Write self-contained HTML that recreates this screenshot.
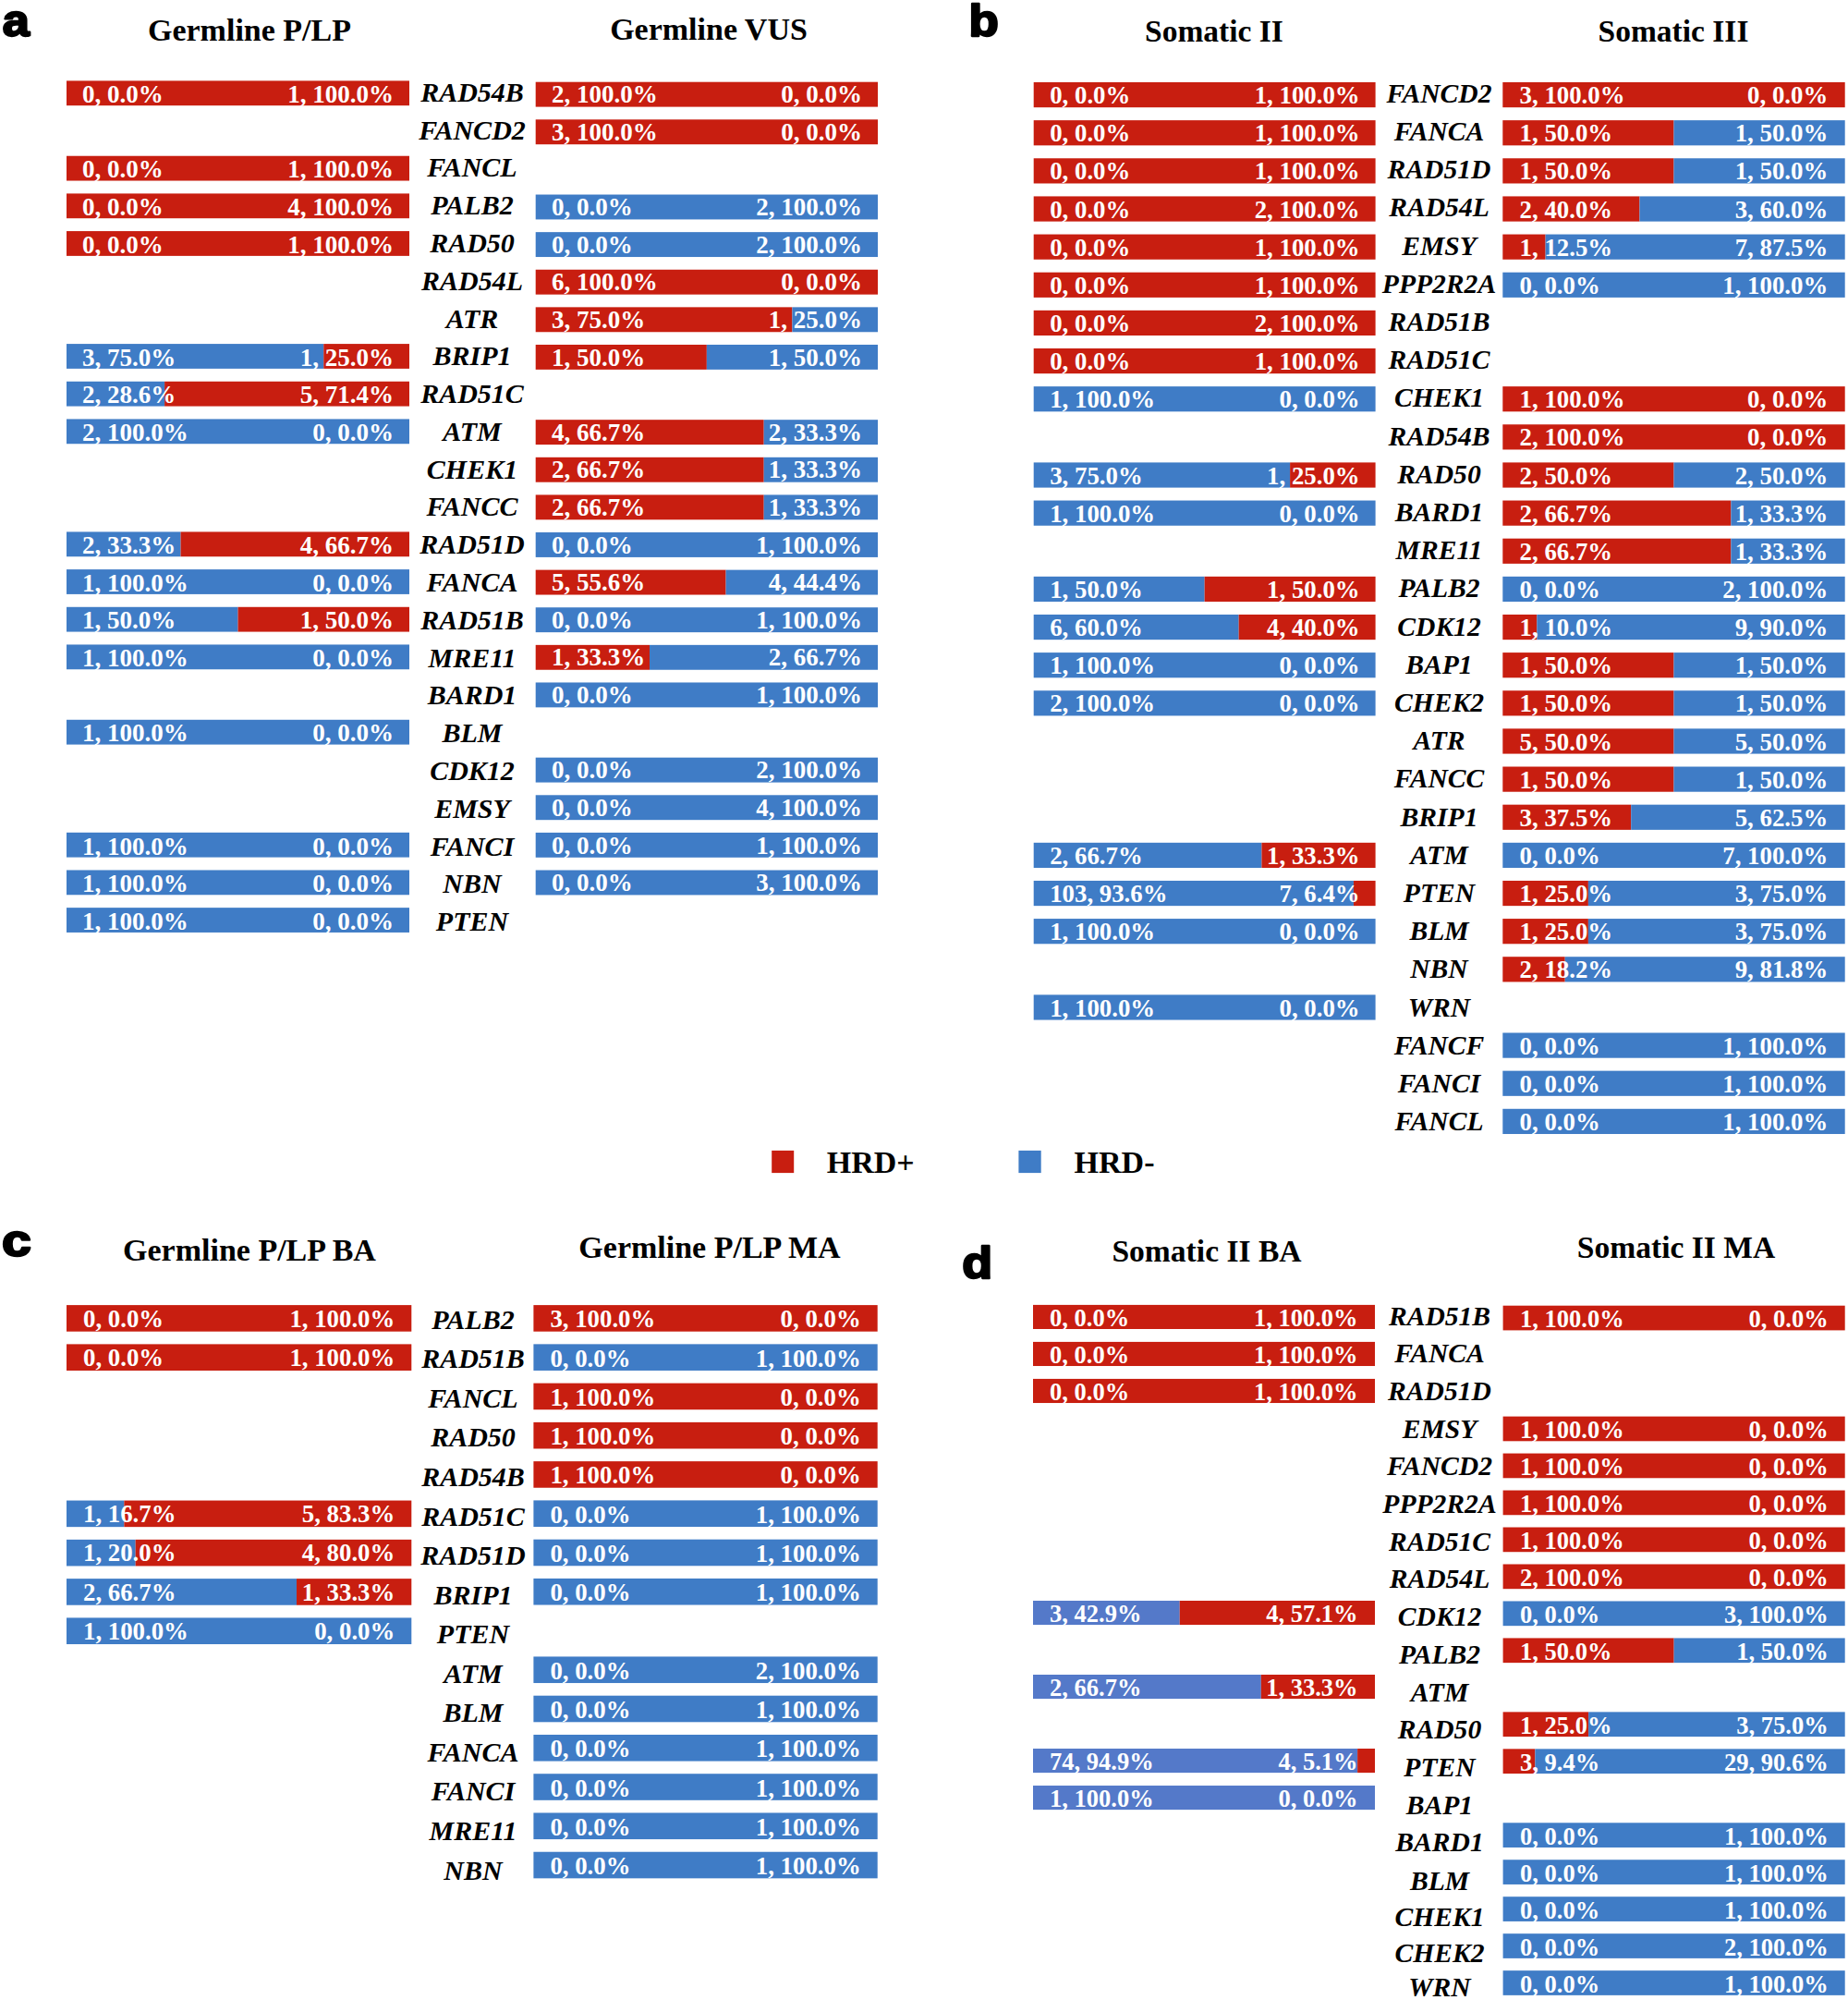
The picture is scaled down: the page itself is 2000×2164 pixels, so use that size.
<!DOCTYPE html>
<html lang="en"><head><meta charset="utf-8"><title>HRD gene alterations</title>
<style>
html,body{margin:0;padding:0;background:#fff;}
svg{display:block;}
.t{font-family:"Liberation Serif","Times New Roman",serif;font-weight:bold;fill:#fff;}
.g{font-family:"Liberation Serif","Times New Roman",serif;font-weight:bold;font-style:italic;fill:#000;text-anchor:middle;}
.h{font-family:"Liberation Serif","Times New Roman",serif;font-weight:bold;fill:#000;text-anchor:middle;}
.k{font-family:"Liberation Serif","Times New Roman",serif;font-weight:bold;fill:#000;}
.p{font-family:"Liberation Sans","Arial",sans-serif;font-weight:bold;fill:#000;stroke:#000;stroke-linejoin:round;}
.e{text-anchor:end;}
</style></head><body>
<svg width="2000" height="2164" viewBox="0 0 2000 2164">
<rect x="0" y="0" width="2000" height="2164" fill="#fff"/>
<g id="panel-a">
<rect x="72" y="87.4" width="371" height="26.8" fill="#C81E10"/>
<text class="t" x="89" y="111.1" font-size="27">0, 0.0%</text>
<text class="t e" x="426" y="111.1" font-size="27">1, 100.0%</text>
<rect x="579.7" y="88.7" width="370.3" height="26.9" fill="#C81E10"/>
<text class="t" x="597" y="111.3" font-size="27">2, 100.0%</text>
<text class="t e" x="933" y="111.3" font-size="27">0, 0.0%</text>
<text class="g" x="511" y="109.8" font-size="30">RAD54B</text>
<rect x="579.7" y="129.31" width="370.3" height="26.9" fill="#C81E10"/>
<text class="t" x="597" y="151.91" font-size="27">3, 100.0%</text>
<text class="t e" x="933" y="151.91" font-size="27">0, 0.0%</text>
<text class="g" x="511" y="150.59" font-size="30">FANCD2</text>
<rect x="72" y="168.74" width="371" height="26.8" fill="#C81E10"/>
<text class="t" x="89" y="192.44" font-size="27">0, 0.0%</text>
<text class="t e" x="426" y="192.44" font-size="27">1, 100.0%</text>
<text class="g" x="511" y="191.38" font-size="30">FANCL</text>
<rect x="72" y="209.41" width="371" height="26.8" fill="#C81E10"/>
<text class="t" x="89" y="233.11" font-size="27">0, 0.0%</text>
<text class="t e" x="426" y="233.11" font-size="27">4, 100.0%</text>
<rect x="579.7" y="210.53" width="370.3" height="26.9" fill="#3F7CC6"/>
<text class="t" x="597" y="233.13" font-size="27">0, 0.0%</text>
<text class="t e" x="933" y="233.13" font-size="27">2, 100.0%</text>
<text class="g" x="511" y="232.17" font-size="30">PALB2</text>
<rect x="72" y="250.08" width="371" height="26.8" fill="#C81E10"/>
<text class="t" x="89" y="273.78" font-size="27">0, 0.0%</text>
<text class="t e" x="426" y="273.78" font-size="27">1, 100.0%</text>
<rect x="579.7" y="251.14" width="370.3" height="26.9" fill="#3F7CC6"/>
<text class="t" x="597" y="273.74" font-size="27">0, 0.0%</text>
<text class="t e" x="933" y="273.74" font-size="27">2, 100.0%</text>
<text class="g" x="511" y="272.96" font-size="30">RAD50</text>
<rect x="579.7" y="291.75" width="370.3" height="26.9" fill="#C81E10"/>
<text class="t" x="597" y="314.35" font-size="27">6, 100.0%</text>
<text class="t e" x="933" y="314.35" font-size="27">0, 0.0%</text>
<text class="g" x="511" y="313.75" font-size="30">RAD54L</text>
<rect x="579.7" y="332.36" width="277.72" height="26.9" fill="#C81E10"/>
<rect x="857.42" y="332.36" width="92.58" height="26.9" fill="#3F7CC6"/>
<text class="t" x="597" y="354.96" font-size="27">3, 75.0%</text>
<text class="t e" x="933" y="354.96" font-size="27">1, 25.0%</text>
<text class="g" x="511" y="354.54" font-size="30">ATR</text>
<rect x="72" y="372.09" width="278.25" height="26.8" fill="#3F7CC6"/>
<rect x="350.25" y="372.09" width="92.75" height="26.8" fill="#C81E10"/>
<text class="t" x="89" y="395.79" font-size="27">3, 75.0%</text>
<text class="t e" x="426" y="395.79" font-size="27">1, 25.0%</text>
<rect x="579.7" y="372.97" width="185.15" height="26.9" fill="#C81E10"/>
<rect x="764.85" y="372.97" width="185.15" height="26.9" fill="#3F7CC6"/>
<text class="t" x="597" y="395.57" font-size="27">1, 50.0%</text>
<text class="t e" x="933" y="395.57" font-size="27">1, 50.0%</text>
<text class="g" x="511" y="395.33" font-size="30">BRIP1</text>
<rect x="72" y="412.76" width="106.11" height="26.8" fill="#3F7CC6"/>
<rect x="178.11" y="412.76" width="264.89" height="26.8" fill="#C81E10"/>
<text class="t" x="89" y="436.46" font-size="27">2, 28.6%</text>
<text class="t e" x="426" y="436.46" font-size="27">5, 71.4%</text>
<text class="g" x="511" y="436.12" font-size="30">RAD51C</text>
<rect x="72" y="453.43" width="371" height="26.8" fill="#3F7CC6"/>
<text class="t" x="89" y="477.13" font-size="27">2, 100.0%</text>
<text class="t e" x="426" y="477.13" font-size="27">0, 0.0%</text>
<rect x="579.7" y="454.19" width="246.99" height="26.9" fill="#C81E10"/>
<rect x="826.69" y="454.19" width="123.31" height="26.9" fill="#3F7CC6"/>
<text class="t" x="597" y="476.79" font-size="27">4, 66.7%</text>
<text class="t e" x="933" y="476.79" font-size="27">2, 33.3%</text>
<text class="g" x="511" y="476.91" font-size="30">ATM</text>
<rect x="579.7" y="494.8" width="246.99" height="26.9" fill="#C81E10"/>
<rect x="826.69" y="494.8" width="123.31" height="26.9" fill="#3F7CC6"/>
<text class="t" x="597" y="517.4" font-size="27">2, 66.7%</text>
<text class="t e" x="933" y="517.4" font-size="27">1, 33.3%</text>
<text class="g" x="511" y="517.7" font-size="30">CHEK1</text>
<rect x="579.7" y="535.41" width="246.99" height="26.9" fill="#C81E10"/>
<rect x="826.69" y="535.41" width="123.31" height="26.9" fill="#3F7CC6"/>
<text class="t" x="597" y="558.01" font-size="27">2, 66.7%</text>
<text class="t e" x="933" y="558.01" font-size="27">1, 33.3%</text>
<text class="g" x="511" y="558.49" font-size="30">FANCC</text>
<rect x="72" y="575.44" width="123.54" height="26.8" fill="#3F7CC6"/>
<rect x="195.54" y="575.44" width="247.46" height="26.8" fill="#C81E10"/>
<text class="t" x="89" y="599.14" font-size="27">2, 33.3%</text>
<text class="t e" x="426" y="599.14" font-size="27">4, 66.7%</text>
<rect x="579.7" y="576.02" width="370.3" height="26.9" fill="#3F7CC6"/>
<text class="t" x="597" y="598.62" font-size="27">0, 0.0%</text>
<text class="t e" x="933" y="598.62" font-size="27">1, 100.0%</text>
<text class="g" x="511" y="599.28" font-size="30">RAD51D</text>
<rect x="72" y="616.11" width="371" height="26.8" fill="#3F7CC6"/>
<text class="t" x="89" y="639.81" font-size="27">1, 100.0%</text>
<text class="t e" x="426" y="639.81" font-size="27">0, 0.0%</text>
<rect x="579.7" y="616.63" width="205.89" height="26.9" fill="#C81E10"/>
<rect x="785.59" y="616.63" width="164.41" height="26.9" fill="#3F7CC6"/>
<text class="t" x="597" y="639.23" font-size="27">5, 55.6%</text>
<text class="t e" x="933" y="639.23" font-size="27">4, 44.4%</text>
<text class="g" x="511" y="640.07" font-size="30">FANCA</text>
<rect x="72" y="656.78" width="185.5" height="26.8" fill="#3F7CC6"/>
<rect x="257.5" y="656.78" width="185.5" height="26.8" fill="#C81E10"/>
<text class="t" x="89" y="680.48" font-size="27">1, 50.0%</text>
<text class="t e" x="426" y="680.48" font-size="27">1, 50.0%</text>
<rect x="579.7" y="657.24" width="370.3" height="26.9" fill="#3F7CC6"/>
<text class="t" x="597" y="679.84" font-size="27">0, 0.0%</text>
<text class="t e" x="933" y="679.84" font-size="27">1, 100.0%</text>
<text class="g" x="511" y="680.86" font-size="30">RAD51B</text>
<rect x="72" y="697.45" width="371" height="26.8" fill="#3F7CC6"/>
<text class="t" x="89" y="721.15" font-size="27">1, 100.0%</text>
<text class="t e" x="426" y="721.15" font-size="27">0, 0.0%</text>
<rect x="579.7" y="697.85" width="123.31" height="26.9" fill="#C81E10"/>
<rect x="703.01" y="697.85" width="246.99" height="26.9" fill="#3F7CC6"/>
<text class="t" x="597" y="720.45" font-size="27">1, 33.3%</text>
<text class="t e" x="933" y="720.45" font-size="27">2, 66.7%</text>
<text class="g" x="511" y="721.65" font-size="30">MRE11</text>
<rect x="579.7" y="738.46" width="370.3" height="26.9" fill="#3F7CC6"/>
<text class="t" x="597" y="761.06" font-size="27">0, 0.0%</text>
<text class="t e" x="933" y="761.06" font-size="27">1, 100.0%</text>
<text class="g" x="511" y="762.44" font-size="30">BARD1</text>
<rect x="72" y="778.79" width="371" height="26.8" fill="#3F7CC6"/>
<text class="t" x="89" y="802.49" font-size="27">1, 100.0%</text>
<text class="t e" x="426" y="802.49" font-size="27">0, 0.0%</text>
<text class="g" x="511" y="803.23" font-size="30">BLM</text>
<rect x="579.7" y="819.68" width="370.3" height="26.9" fill="#3F7CC6"/>
<text class="t" x="597" y="842.28" font-size="27">0, 0.0%</text>
<text class="t e" x="933" y="842.28" font-size="27">2, 100.0%</text>
<text class="g" x="511" y="844.02" font-size="30">CDK12</text>
<rect x="579.7" y="860.29" width="370.3" height="26.9" fill="#3F7CC6"/>
<text class="t" x="597" y="882.89" font-size="27">0, 0.0%</text>
<text class="t e" x="933" y="882.89" font-size="27">4, 100.0%</text>
<text class="g" x="511" y="884.81" font-size="30">EMSY</text>
<rect x="72" y="900.8" width="371" height="26.8" fill="#3F7CC6"/>
<text class="t" x="89" y="924.5" font-size="27">1, 100.0%</text>
<text class="t e" x="426" y="924.5" font-size="27">0, 0.0%</text>
<rect x="579.7" y="900.9" width="370.3" height="26.9" fill="#3F7CC6"/>
<text class="t" x="597" y="923.5" font-size="27">0, 0.0%</text>
<text class="t e" x="933" y="923.5" font-size="27">1, 100.0%</text>
<text class="g" x="511" y="925.6" font-size="30">FANCI</text>
<rect x="72" y="941.47" width="371" height="26.8" fill="#3F7CC6"/>
<text class="t" x="89" y="965.17" font-size="27">1, 100.0%</text>
<text class="t e" x="426" y="965.17" font-size="27">0, 0.0%</text>
<rect x="579.7" y="941.51" width="370.3" height="26.9" fill="#3F7CC6"/>
<text class="t" x="597" y="964.11" font-size="27">0, 0.0%</text>
<text class="t e" x="933" y="964.11" font-size="27">3, 100.0%</text>
<text class="g" x="511" y="966.39" font-size="30">NBN</text>
<rect x="72" y="982.14" width="371" height="26.8" fill="#3F7CC6"/>
<text class="t" x="89" y="1005.84" font-size="27">1, 100.0%</text>
<text class="t e" x="426" y="1005.84" font-size="27">0, 0.0%</text>
<text class="g" x="511" y="1007.18" font-size="30">PTEN</text>
</g>
<g id="panel-b">
<rect x="1118.7" y="89" width="369.9" height="27.2" fill="#C81E10"/>
<text class="t" x="1136.2" y="112.2" font-size="26.8">0, 0.0%</text>
<text class="t e" x="1471.6" y="112.2" font-size="26.8">1, 100.0%</text>
<rect x="1626.3" y="89" width="370.4" height="27.2" fill="#C81E10"/>
<text class="t" x="1644.6" y="112.2" font-size="26.8">3, 100.0%</text>
<text class="t e" x="1978.2" y="112.2" font-size="26.8">0, 0.0%</text>
<text class="g" x="1557.5" y="110.8" font-size="29.6">FANCD2</text>
<rect x="1118.7" y="130.14" width="369.9" height="27.2" fill="#C81E10"/>
<text class="t" x="1136.2" y="153.34" font-size="26.8">0, 0.0%</text>
<text class="t e" x="1471.6" y="153.34" font-size="26.8">1, 100.0%</text>
<rect x="1626.3" y="130.14" width="185.2" height="27.2" fill="#C81E10"/>
<rect x="1811.5" y="130.14" width="185.2" height="27.2" fill="#3F7CC6"/>
<text class="t" x="1644.6" y="153.34" font-size="26.8">1, 50.0%</text>
<text class="t e" x="1978.2" y="153.34" font-size="26.8">1, 50.0%</text>
<text class="g" x="1557.5" y="152" font-size="29.6">FANCA</text>
<rect x="1118.7" y="171.28" width="369.9" height="27.2" fill="#C81E10"/>
<text class="t" x="1136.2" y="194.48" font-size="26.8">0, 0.0%</text>
<text class="t e" x="1471.6" y="194.48" font-size="26.8">1, 100.0%</text>
<rect x="1626.3" y="171.28" width="185.2" height="27.2" fill="#C81E10"/>
<rect x="1811.5" y="171.28" width="185.2" height="27.2" fill="#3F7CC6"/>
<text class="t" x="1644.6" y="194.48" font-size="26.8">1, 50.0%</text>
<text class="t e" x="1978.2" y="194.48" font-size="26.8">1, 50.0%</text>
<text class="g" x="1557.5" y="193.2" font-size="29.6">RAD51D</text>
<rect x="1118.7" y="212.42" width="369.9" height="27.2" fill="#C81E10"/>
<text class="t" x="1136.2" y="235.62" font-size="26.8">0, 0.0%</text>
<text class="t e" x="1471.6" y="235.62" font-size="26.8">2, 100.0%</text>
<rect x="1626.3" y="212.42" width="148.16" height="27.2" fill="#C81E10"/>
<rect x="1774.46" y="212.42" width="222.24" height="27.2" fill="#3F7CC6"/>
<text class="t" x="1644.6" y="235.62" font-size="26.8">2, 40.0%</text>
<text class="t e" x="1978.2" y="235.62" font-size="26.8">3, 60.0%</text>
<text class="g" x="1557.5" y="234.4" font-size="29.6">RAD54L</text>
<rect x="1118.7" y="253.56" width="369.9" height="27.2" fill="#C81E10"/>
<text class="t" x="1136.2" y="276.76" font-size="26.8">0, 0.0%</text>
<text class="t e" x="1471.6" y="276.76" font-size="26.8">1, 100.0%</text>
<rect x="1626.3" y="253.56" width="46.3" height="27.2" fill="#C81E10"/>
<rect x="1672.6" y="253.56" width="324.1" height="27.2" fill="#3F7CC6"/>
<text class="t" x="1644.6" y="276.76" font-size="26.8">1, 12.5%</text>
<text class="t e" x="1978.2" y="276.76" font-size="26.8">7, 87.5%</text>
<text class="g" x="1557.5" y="275.6" font-size="29.6">EMSY</text>
<rect x="1118.7" y="294.7" width="369.9" height="27.2" fill="#C81E10"/>
<text class="t" x="1136.2" y="317.9" font-size="26.8">0, 0.0%</text>
<text class="t e" x="1471.6" y="317.9" font-size="26.8">1, 100.0%</text>
<rect x="1626.3" y="294.7" width="370.4" height="27.2" fill="#3F7CC6"/>
<text class="t" x="1644.6" y="317.9" font-size="26.8">0, 0.0%</text>
<text class="t e" x="1978.2" y="317.9" font-size="26.8">1, 100.0%</text>
<text class="g" x="1557.5" y="316.8" font-size="29.6">PPP2R2A</text>
<rect x="1118.7" y="335.84" width="369.9" height="27.2" fill="#C81E10"/>
<text class="t" x="1136.2" y="359.04" font-size="26.8">0, 0.0%</text>
<text class="t e" x="1471.6" y="359.04" font-size="26.8">2, 100.0%</text>
<text class="g" x="1557.5" y="358" font-size="29.6">RAD51B</text>
<rect x="1118.7" y="376.98" width="369.9" height="27.2" fill="#C81E10"/>
<text class="t" x="1136.2" y="400.18" font-size="26.8">0, 0.0%</text>
<text class="t e" x="1471.6" y="400.18" font-size="26.8">1, 100.0%</text>
<text class="g" x="1557.5" y="399.2" font-size="29.6">RAD51C</text>
<rect x="1118.7" y="418.12" width="369.9" height="27.2" fill="#3F7CC6"/>
<text class="t" x="1136.2" y="441.32" font-size="26.8">1, 100.0%</text>
<text class="t e" x="1471.6" y="441.32" font-size="26.8">0, 0.0%</text>
<rect x="1626.3" y="418.12" width="370.4" height="27.2" fill="#C81E10"/>
<text class="t" x="1644.6" y="441.32" font-size="26.8">1, 100.0%</text>
<text class="t e" x="1978.2" y="441.32" font-size="26.8">0, 0.0%</text>
<text class="g" x="1557.5" y="440.4" font-size="29.6">CHEK1</text>
<rect x="1626.3" y="459.26" width="370.4" height="27.2" fill="#C81E10"/>
<text class="t" x="1644.6" y="482.46" font-size="26.8">2, 100.0%</text>
<text class="t e" x="1978.2" y="482.46" font-size="26.8">0, 0.0%</text>
<text class="g" x="1557.5" y="481.6" font-size="29.6">RAD54B</text>
<rect x="1118.7" y="500.4" width="277.42" height="27.2" fill="#3F7CC6"/>
<rect x="1396.12" y="500.4" width="92.47" height="27.2" fill="#C81E10"/>
<text class="t" x="1136.2" y="523.6" font-size="26.8">3, 75.0%</text>
<text class="t e" x="1471.6" y="523.6" font-size="26.8">1, 25.0%</text>
<rect x="1626.3" y="500.4" width="185.2" height="27.2" fill="#C81E10"/>
<rect x="1811.5" y="500.4" width="185.2" height="27.2" fill="#3F7CC6"/>
<text class="t" x="1644.6" y="523.6" font-size="26.8">2, 50.0%</text>
<text class="t e" x="1978.2" y="523.6" font-size="26.8">2, 50.0%</text>
<text class="g" x="1557.5" y="522.8" font-size="29.6">RAD50</text>
<rect x="1118.7" y="541.54" width="369.9" height="27.2" fill="#3F7CC6"/>
<text class="t" x="1136.2" y="564.74" font-size="26.8">1, 100.0%</text>
<text class="t e" x="1471.6" y="564.74" font-size="26.8">0, 0.0%</text>
<rect x="1626.3" y="541.54" width="247.06" height="27.2" fill="#C81E10"/>
<rect x="1873.36" y="541.54" width="123.34" height="27.2" fill="#3F7CC6"/>
<text class="t" x="1644.6" y="564.74" font-size="26.8">2, 66.7%</text>
<text class="t e" x="1978.2" y="564.74" font-size="26.8">1, 33.3%</text>
<text class="g" x="1557.5" y="564" font-size="29.6">BARD1</text>
<rect x="1626.3" y="582.68" width="247.06" height="27.2" fill="#C81E10"/>
<rect x="1873.36" y="582.68" width="123.34" height="27.2" fill="#3F7CC6"/>
<text class="t" x="1644.6" y="605.88" font-size="26.8">2, 66.7%</text>
<text class="t e" x="1978.2" y="605.88" font-size="26.8">1, 33.3%</text>
<text class="g" x="1557.5" y="605.2" font-size="29.6">MRE11</text>
<rect x="1118.7" y="623.82" width="184.95" height="27.2" fill="#3F7CC6"/>
<rect x="1303.65" y="623.82" width="184.95" height="27.2" fill="#C81E10"/>
<text class="t" x="1136.2" y="647.02" font-size="26.8">1, 50.0%</text>
<text class="t e" x="1471.6" y="647.02" font-size="26.8">1, 50.0%</text>
<rect x="1626.3" y="623.82" width="370.4" height="27.2" fill="#3F7CC6"/>
<text class="t" x="1644.6" y="647.02" font-size="26.8">0, 0.0%</text>
<text class="t e" x="1978.2" y="647.02" font-size="26.8">2, 100.0%</text>
<text class="g" x="1557.5" y="646.4" font-size="29.6">PALB2</text>
<rect x="1118.7" y="664.96" width="221.94" height="27.2" fill="#3F7CC6"/>
<rect x="1340.64" y="664.96" width="147.96" height="27.2" fill="#C81E10"/>
<text class="t" x="1136.2" y="688.16" font-size="26.8">6, 60.0%</text>
<text class="t e" x="1471.6" y="688.16" font-size="26.8">4, 40.0%</text>
<rect x="1626.3" y="664.96" width="37.04" height="27.2" fill="#C81E10"/>
<rect x="1663.34" y="664.96" width="333.36" height="27.2" fill="#3F7CC6"/>
<text class="t" x="1644.6" y="688.16" font-size="26.8">1, 10.0%</text>
<text class="t e" x="1978.2" y="688.16" font-size="26.8">9, 90.0%</text>
<text class="g" x="1557.5" y="687.6" font-size="29.6">CDK12</text>
<rect x="1118.7" y="706.1" width="369.9" height="27.2" fill="#3F7CC6"/>
<text class="t" x="1136.2" y="729.3" font-size="26.8">1, 100.0%</text>
<text class="t e" x="1471.6" y="729.3" font-size="26.8">0, 0.0%</text>
<rect x="1626.3" y="706.1" width="185.2" height="27.2" fill="#C81E10"/>
<rect x="1811.5" y="706.1" width="185.2" height="27.2" fill="#3F7CC6"/>
<text class="t" x="1644.6" y="729.3" font-size="26.8">1, 50.0%</text>
<text class="t e" x="1978.2" y="729.3" font-size="26.8">1, 50.0%</text>
<text class="g" x="1557.5" y="728.8" font-size="29.6">BAP1</text>
<rect x="1118.7" y="747.24" width="369.9" height="27.2" fill="#3F7CC6"/>
<text class="t" x="1136.2" y="770.44" font-size="26.8">2, 100.0%</text>
<text class="t e" x="1471.6" y="770.44" font-size="26.8">0, 0.0%</text>
<rect x="1626.3" y="747.24" width="185.2" height="27.2" fill="#C81E10"/>
<rect x="1811.5" y="747.24" width="185.2" height="27.2" fill="#3F7CC6"/>
<text class="t" x="1644.6" y="770.44" font-size="26.8">1, 50.0%</text>
<text class="t e" x="1978.2" y="770.44" font-size="26.8">1, 50.0%</text>
<text class="g" x="1557.5" y="770" font-size="29.6">CHEK2</text>
<rect x="1626.3" y="788.38" width="185.2" height="27.2" fill="#C81E10"/>
<rect x="1811.5" y="788.38" width="185.2" height="27.2" fill="#3F7CC6"/>
<text class="t" x="1644.6" y="811.58" font-size="26.8">5, 50.0%</text>
<text class="t e" x="1978.2" y="811.58" font-size="26.8">5, 50.0%</text>
<text class="g" x="1557.5" y="811.2" font-size="29.6">ATR</text>
<rect x="1626.3" y="829.52" width="185.2" height="27.2" fill="#C81E10"/>
<rect x="1811.5" y="829.52" width="185.2" height="27.2" fill="#3F7CC6"/>
<text class="t" x="1644.6" y="852.72" font-size="26.8">1, 50.0%</text>
<text class="t e" x="1978.2" y="852.72" font-size="26.8">1, 50.0%</text>
<text class="g" x="1557.5" y="852.4" font-size="29.6">FANCC</text>
<rect x="1626.3" y="870.66" width="138.9" height="27.2" fill="#C81E10"/>
<rect x="1765.2" y="870.66" width="231.5" height="27.2" fill="#3F7CC6"/>
<text class="t" x="1644.6" y="893.86" font-size="26.8">3, 37.5%</text>
<text class="t e" x="1978.2" y="893.86" font-size="26.8">5, 62.5%</text>
<text class="g" x="1557.5" y="893.6" font-size="29.6">BRIP1</text>
<rect x="1118.7" y="911.8" width="246.72" height="27.2" fill="#3F7CC6"/>
<rect x="1365.42" y="911.8" width="123.18" height="27.2" fill="#C81E10"/>
<text class="t" x="1136.2" y="935" font-size="26.8">2, 66.7%</text>
<text class="t e" x="1471.6" y="935" font-size="26.8">1, 33.3%</text>
<rect x="1626.3" y="911.8" width="370.4" height="27.2" fill="#3F7CC6"/>
<text class="t" x="1644.6" y="935" font-size="26.8">0, 0.0%</text>
<text class="t e" x="1978.2" y="935" font-size="26.8">7, 100.0%</text>
<text class="g" x="1557.5" y="934.8" font-size="29.6">ATM</text>
<rect x="1118.7" y="952.94" width="346.23" height="27.2" fill="#3F7CC6"/>
<rect x="1464.93" y="952.94" width="23.67" height="27.2" fill="#C81E10"/>
<text class="t" x="1136.2" y="976.14" font-size="26.8">103, 93.6%</text>
<text class="t e" x="1471.6" y="976.14" font-size="26.8">7, 6.4%</text>
<rect x="1626.3" y="952.94" width="92.6" height="27.2" fill="#C81E10"/>
<rect x="1718.9" y="952.94" width="277.8" height="27.2" fill="#3F7CC6"/>
<text class="t" x="1644.6" y="976.14" font-size="26.8">1, 25.0%</text>
<text class="t e" x="1978.2" y="976.14" font-size="26.8">3, 75.0%</text>
<text class="g" x="1557.5" y="976" font-size="29.6">PTEN</text>
<rect x="1118.7" y="994.08" width="369.9" height="27.2" fill="#3F7CC6"/>
<text class="t" x="1136.2" y="1017.28" font-size="26.8">1, 100.0%</text>
<text class="t e" x="1471.6" y="1017.28" font-size="26.8">0, 0.0%</text>
<rect x="1626.3" y="994.08" width="92.6" height="27.2" fill="#C81E10"/>
<rect x="1718.9" y="994.08" width="277.8" height="27.2" fill="#3F7CC6"/>
<text class="t" x="1644.6" y="1017.28" font-size="26.8">1, 25.0%</text>
<text class="t e" x="1978.2" y="1017.28" font-size="26.8">3, 75.0%</text>
<text class="g" x="1557.5" y="1017.2" font-size="29.6">BLM</text>
<rect x="1626.3" y="1035.22" width="67.41" height="27.2" fill="#C81E10"/>
<rect x="1693.71" y="1035.22" width="302.99" height="27.2" fill="#3F7CC6"/>
<text class="t" x="1644.6" y="1058.42" font-size="26.8">2, 18.2%</text>
<text class="t e" x="1978.2" y="1058.42" font-size="26.8">9, 81.8%</text>
<text class="g" x="1557.5" y="1058.4" font-size="29.6">NBN</text>
<rect x="1118.7" y="1076.36" width="369.9" height="27.2" fill="#3F7CC6"/>
<text class="t" x="1136.2" y="1099.56" font-size="26.8">1, 100.0%</text>
<text class="t e" x="1471.6" y="1099.56" font-size="26.8">0, 0.0%</text>
<text class="g" x="1557.5" y="1099.6" font-size="29.6">WRN</text>
<rect x="1626.3" y="1117.5" width="370.4" height="27.2" fill="#3F7CC6"/>
<text class="t" x="1644.6" y="1140.7" font-size="26.8">0, 0.0%</text>
<text class="t e" x="1978.2" y="1140.7" font-size="26.8">1, 100.0%</text>
<text class="g" x="1557.5" y="1140.8" font-size="29.6">FANCF</text>
<rect x="1626.3" y="1158.64" width="370.4" height="27.2" fill="#3F7CC6"/>
<text class="t" x="1644.6" y="1181.84" font-size="26.8">0, 0.0%</text>
<text class="t e" x="1978.2" y="1181.84" font-size="26.8">1, 100.0%</text>
<text class="g" x="1557.5" y="1182" font-size="29.6">FANCI</text>
<rect x="1626.3" y="1199.78" width="370.4" height="27.2" fill="#3F7CC6"/>
<text class="t" x="1644.6" y="1222.98" font-size="26.8">0, 0.0%</text>
<text class="t e" x="1978.2" y="1222.98" font-size="26.8">1, 100.0%</text>
<text class="g" x="1557.5" y="1223.2" font-size="29.6">FANCL</text>
</g>
<g id="panel-c">
<rect x="72" y="1412.1" width="373.3" height="28.6" fill="#C81E10"/>
<text class="t" x="90" y="1435.7" font-size="26.8">0, 0.0%</text>
<text class="t e" x="427.3" y="1435.7" font-size="26.8">1, 100.0%</text>
<rect x="577.4" y="1412.1" width="372.3" height="28.6" fill="#C81E10"/>
<text class="t" x="595.4" y="1436.4" font-size="26.8">3, 100.0%</text>
<text class="t e" x="931.7" y="1436.4" font-size="26.8">0, 0.0%</text>
<text class="g" x="512" y="1437.7" font-size="30">PALB2</text>
<rect x="72" y="1454.39" width="373.3" height="28.6" fill="#C81E10"/>
<text class="t" x="90" y="1477.99" font-size="26.8">0, 0.0%</text>
<text class="t e" x="427.3" y="1477.99" font-size="26.8">1, 100.0%</text>
<rect x="577.4" y="1454.36" width="372.3" height="28.6" fill="#3F7CC6"/>
<text class="t" x="595.4" y="1478.66" font-size="26.8">0, 0.0%</text>
<text class="t e" x="931.7" y="1478.66" font-size="26.8">1, 100.0%</text>
<text class="g" x="512" y="1480.26" font-size="30">RAD51B</text>
<rect x="577.4" y="1496.62" width="372.3" height="28.6" fill="#C81E10"/>
<text class="t" x="595.4" y="1520.92" font-size="26.8">1, 100.0%</text>
<text class="t e" x="931.7" y="1520.92" font-size="26.8">0, 0.0%</text>
<text class="g" x="512" y="1522.82" font-size="30">FANCL</text>
<rect x="577.4" y="1538.88" width="372.3" height="28.6" fill="#C81E10"/>
<text class="t" x="595.4" y="1563.18" font-size="26.8">1, 100.0%</text>
<text class="t e" x="931.7" y="1563.18" font-size="26.8">0, 0.0%</text>
<text class="g" x="512" y="1565.38" font-size="30">RAD50</text>
<rect x="577.4" y="1581.14" width="372.3" height="28.6" fill="#C81E10"/>
<text class="t" x="595.4" y="1605.44" font-size="26.8">1, 100.0%</text>
<text class="t e" x="931.7" y="1605.44" font-size="26.8">0, 0.0%</text>
<text class="g" x="512" y="1607.94" font-size="30">RAD54B</text>
<rect x="72" y="1623.55" width="62.34" height="28.6" fill="#3F7CC6"/>
<rect x="134.34" y="1623.55" width="310.96" height="28.6" fill="#C81E10"/>
<text class="t" x="90" y="1647.15" font-size="26.8">1, 16.7%</text>
<text class="t e" x="427.3" y="1647.15" font-size="26.8">5, 83.3%</text>
<rect x="577.4" y="1623.4" width="372.3" height="28.6" fill="#3F7CC6"/>
<text class="t" x="595.4" y="1647.7" font-size="26.8">0, 0.0%</text>
<text class="t e" x="931.7" y="1647.7" font-size="26.8">1, 100.0%</text>
<text class="g" x="512" y="1650.5" font-size="30">RAD51C</text>
<rect x="72" y="1665.84" width="74.66" height="28.6" fill="#3F7CC6"/>
<rect x="146.66" y="1665.84" width="298.64" height="28.6" fill="#C81E10"/>
<text class="t" x="90" y="1689.44" font-size="26.8">1, 20.0%</text>
<text class="t e" x="427.3" y="1689.44" font-size="26.8">4, 80.0%</text>
<rect x="577.4" y="1665.66" width="372.3" height="28.6" fill="#3F7CC6"/>
<text class="t" x="595.4" y="1689.96" font-size="26.8">0, 0.0%</text>
<text class="t e" x="931.7" y="1689.96" font-size="26.8">1, 100.0%</text>
<text class="g" x="512" y="1693.06" font-size="30">RAD51D</text>
<rect x="72" y="1708.13" width="248.99" height="28.6" fill="#3F7CC6"/>
<rect x="320.99" y="1708.13" width="124.31" height="28.6" fill="#C81E10"/>
<text class="t" x="90" y="1731.73" font-size="26.8">2, 66.7%</text>
<text class="t e" x="427.3" y="1731.73" font-size="26.8">1, 33.3%</text>
<rect x="577.4" y="1707.92" width="372.3" height="28.6" fill="#3F7CC6"/>
<text class="t" x="595.4" y="1732.22" font-size="26.8">0, 0.0%</text>
<text class="t e" x="931.7" y="1732.22" font-size="26.8">1, 100.0%</text>
<text class="g" x="512" y="1735.62" font-size="30">BRIP1</text>
<rect x="72" y="1750.42" width="373.3" height="28.6" fill="#3F7CC6"/>
<text class="t" x="90" y="1774.02" font-size="26.8">1, 100.0%</text>
<text class="t e" x="427.3" y="1774.02" font-size="26.8">0, 0.0%</text>
<text class="g" x="512" y="1778.18" font-size="30">PTEN</text>
<rect x="577.4" y="1792.44" width="372.3" height="28.6" fill="#3F7CC6"/>
<text class="t" x="595.4" y="1816.74" font-size="26.8">0, 0.0%</text>
<text class="t e" x="931.7" y="1816.74" font-size="26.8">2, 100.0%</text>
<text class="g" x="512" y="1820.74" font-size="30">ATM</text>
<rect x="577.4" y="1834.7" width="372.3" height="28.6" fill="#3F7CC6"/>
<text class="t" x="595.4" y="1859" font-size="26.8">0, 0.0%</text>
<text class="t e" x="931.7" y="1859" font-size="26.8">1, 100.0%</text>
<text class="g" x="512" y="1863.3" font-size="30">BLM</text>
<rect x="577.4" y="1876.96" width="372.3" height="28.6" fill="#3F7CC6"/>
<text class="t" x="595.4" y="1901.26" font-size="26.8">0, 0.0%</text>
<text class="t e" x="931.7" y="1901.26" font-size="26.8">1, 100.0%</text>
<text class="g" x="512" y="1905.86" font-size="30">FANCA</text>
<rect x="577.4" y="1919.22" width="372.3" height="28.6" fill="#3F7CC6"/>
<text class="t" x="595.4" y="1943.52" font-size="26.8">0, 0.0%</text>
<text class="t e" x="931.7" y="1943.52" font-size="26.8">1, 100.0%</text>
<text class="g" x="512" y="1948.42" font-size="30">FANCI</text>
<rect x="577.4" y="1961.48" width="372.3" height="28.6" fill="#3F7CC6"/>
<text class="t" x="595.4" y="1985.78" font-size="26.8">0, 0.0%</text>
<text class="t e" x="931.7" y="1985.78" font-size="26.8">1, 100.0%</text>
<text class="g" x="512" y="1990.98" font-size="30">MRE11</text>
<rect x="577.4" y="2003.74" width="372.3" height="28.6" fill="#3F7CC6"/>
<text class="t" x="595.4" y="2028.04" font-size="26.8">0, 0.0%</text>
<text class="t e" x="931.7" y="2028.04" font-size="26.8">1, 100.0%</text>
<text class="g" x="512" y="2033.54" font-size="30">NBN</text>
</g>
<g id="panel-d">
<rect x="1118" y="1411.9" width="370" height="26.1" fill="#C81E10"/>
<text class="t" x="1136" y="1435.3" font-size="26.5">0, 0.0%</text>
<text class="t e" x="1469.5" y="1435.3" font-size="26.5">1, 100.0%</text>
<rect x="1626.6" y="1412.7" width="370.1" height="26.7" fill="#C81E10"/>
<text class="t" x="1645.1" y="1436.1" font-size="26.5">1, 100.0%</text>
<text class="t e" x="1978.7" y="1436.1" font-size="26.5">0, 0.0%</text>
<text class="g" x="1558" y="1433.5" font-size="29.6">RAD51B</text>
<rect x="1118" y="1451.91" width="370" height="26.1" fill="#C81E10"/>
<text class="t" x="1136" y="1475.31" font-size="26.5">0, 0.0%</text>
<text class="t e" x="1469.5" y="1475.31" font-size="26.5">1, 100.0%</text>
<text class="g" x="1558" y="1474.1" font-size="29.6">FANCA</text>
<rect x="1118" y="1491.92" width="370" height="26.1" fill="#C81E10"/>
<text class="t" x="1136" y="1515.32" font-size="26.5">0, 0.0%</text>
<text class="t e" x="1469.5" y="1515.32" font-size="26.5">1, 100.0%</text>
<text class="g" x="1558" y="1514.7" font-size="29.6">RAD51D</text>
<rect x="1626.6" y="1532.61" width="370.1" height="26.7" fill="#C81E10"/>
<text class="t" x="1645.1" y="1556.01" font-size="26.5">1, 100.0%</text>
<text class="t e" x="1978.7" y="1556.01" font-size="26.5">0, 0.0%</text>
<text class="g" x="1558" y="1556" font-size="29.6">EMSY</text>
<rect x="1626.6" y="1572.58" width="370.1" height="26.7" fill="#C81E10"/>
<text class="t" x="1645.1" y="1595.98" font-size="26.5">1, 100.0%</text>
<text class="t e" x="1978.7" y="1595.98" font-size="26.5">0, 0.0%</text>
<text class="g" x="1558" y="1595.6" font-size="29.6">FANCD2</text>
<rect x="1626.6" y="1612.55" width="370.1" height="26.7" fill="#C81E10"/>
<text class="t" x="1645.1" y="1635.95" font-size="26.5">1, 100.0%</text>
<text class="t e" x="1978.7" y="1635.95" font-size="26.5">0, 0.0%</text>
<text class="g" x="1558" y="1637.3" font-size="29.6">PPP2R2A</text>
<rect x="1626.6" y="1652.52" width="370.1" height="26.7" fill="#C81E10"/>
<text class="t" x="1645.1" y="1675.92" font-size="26.5">1, 100.0%</text>
<text class="t e" x="1978.7" y="1675.92" font-size="26.5">0, 0.0%</text>
<text class="g" x="1558" y="1677.5" font-size="29.6">RAD51C</text>
<rect x="1626.6" y="1692.49" width="370.1" height="26.7" fill="#C81E10"/>
<text class="t" x="1645.1" y="1715.89" font-size="26.5">2, 100.0%</text>
<text class="t e" x="1978.7" y="1715.89" font-size="26.5">0, 0.0%</text>
<text class="g" x="1558" y="1718.2" font-size="29.6">RAD54L</text>
<rect x="1118" y="1731.98" width="158.73" height="26.1" fill="#5479C9"/>
<rect x="1276.73" y="1731.98" width="211.27" height="26.1" fill="#C81E10"/>
<text class="t" x="1136" y="1755.38" font-size="26.5">3, 42.9%</text>
<text class="t e" x="1469.5" y="1755.38" font-size="26.5">4, 57.1%</text>
<rect x="1626.6" y="1732.46" width="370.1" height="26.7" fill="#3F7CC6"/>
<text class="t" x="1645.1" y="1755.86" font-size="26.5">0, 0.0%</text>
<text class="t e" x="1978.7" y="1755.86" font-size="26.5">3, 100.0%</text>
<text class="g" x="1558" y="1759.2" font-size="29.6">CDK12</text>
<rect x="1626.6" y="1772.43" width="185.05" height="26.7" fill="#C81E10"/>
<rect x="1811.65" y="1772.43" width="185.05" height="26.7" fill="#3F7CC6"/>
<text class="t" x="1645.1" y="1795.83" font-size="26.5">1, 50.0%</text>
<text class="t e" x="1978.7" y="1795.83" font-size="26.5">1, 50.0%</text>
<text class="g" x="1558" y="1799.9" font-size="29.6">PALB2</text>
<rect x="1118" y="1812" width="246.79" height="26.1" fill="#5479C9"/>
<rect x="1364.79" y="1812" width="123.21" height="26.1" fill="#C81E10"/>
<text class="t" x="1136" y="1835.4" font-size="26.5">2, 66.7%</text>
<text class="t e" x="1469.5" y="1835.4" font-size="26.5">1, 33.3%</text>
<text class="g" x="1558" y="1840.7" font-size="29.6">ATM</text>
<rect x="1626.6" y="1852.37" width="92.53" height="26.7" fill="#C81E10"/>
<rect x="1719.12" y="1852.37" width="277.58" height="26.7" fill="#3F7CC6"/>
<text class="t" x="1645.1" y="1875.77" font-size="26.5">1, 25.0%</text>
<text class="t e" x="1978.7" y="1875.77" font-size="26.5">3, 75.0%</text>
<text class="g" x="1558" y="1881.3" font-size="29.6">RAD50</text>
<rect x="1118" y="1892.02" width="351.13" height="26.1" fill="#5479C9"/>
<rect x="1469.13" y="1892.02" width="18.87" height="26.1" fill="#C81E10"/>
<text class="t" x="1136" y="1915.42" font-size="26.5">74, 94.9%</text>
<text class="t e" x="1469.5" y="1915.42" font-size="26.5">4, 5.1%</text>
<rect x="1626.6" y="1892.34" width="34.79" height="26.7" fill="#C81E10"/>
<rect x="1661.39" y="1892.34" width="335.31" height="26.7" fill="#3F7CC6"/>
<text class="t" x="1645.1" y="1915.74" font-size="26.5">3, 9.4%</text>
<text class="t e" x="1978.7" y="1915.74" font-size="26.5">29, 90.6%</text>
<text class="g" x="1558" y="1921.8" font-size="29.6">PTEN</text>
<rect x="1118" y="1932.03" width="370" height="26.1" fill="#5479C9"/>
<text class="t" x="1136" y="1955.43" font-size="26.5">1, 100.0%</text>
<text class="t e" x="1469.5" y="1955.43" font-size="26.5">0, 0.0%</text>
<text class="g" x="1558" y="1962.8" font-size="29.6">BAP1</text>
<rect x="1626.6" y="1972.28" width="370.1" height="26.7" fill="#3F7CC6"/>
<text class="t" x="1645.1" y="1995.68" font-size="26.5">0, 0.0%</text>
<text class="t e" x="1978.7" y="1995.68" font-size="26.5">1, 100.0%</text>
<text class="g" x="1558" y="2002.5" font-size="29.6">BARD1</text>
<rect x="1626.6" y="2012.25" width="370.1" height="26.7" fill="#3F7CC6"/>
<text class="t" x="1645.1" y="2035.65" font-size="26.5">0, 0.0%</text>
<text class="t e" x="1978.7" y="2035.65" font-size="26.5">1, 100.0%</text>
<text class="g" x="1558" y="2044.7" font-size="29.6">BLM</text>
<rect x="1626.6" y="2052.22" width="370.1" height="26.7" fill="#3F7CC6"/>
<text class="t" x="1645.1" y="2075.62" font-size="26.5">0, 0.0%</text>
<text class="t e" x="1978.7" y="2075.62" font-size="26.5">1, 100.0%</text>
<text class="g" x="1558" y="2084.1" font-size="29.6">CHEK1</text>
<rect x="1626.6" y="2092.19" width="370.1" height="26.7" fill="#3F7CC6"/>
<text class="t" x="1645.1" y="2115.59" font-size="26.5">0, 0.0%</text>
<text class="t e" x="1978.7" y="2115.59" font-size="26.5">2, 100.0%</text>
<text class="g" x="1558" y="2122.7" font-size="29.6">CHEK2</text>
<rect x="1626.6" y="2132.16" width="370.1" height="26.7" fill="#3F7CC6"/>
<text class="t" x="1645.1" y="2155.56" font-size="26.5">0, 0.0%</text>
<text class="t e" x="1978.7" y="2155.56" font-size="26.5">1, 100.0%</text>
<text class="g" x="1558" y="2160.1" font-size="29.6">WRN</text>
</g>
<g id="titles">
<text class="h" x="270" y="44" font-size="34">Germline P/LP</text>
<text class="h" x="767" y="43" font-size="34">Germline VUS</text>
<text class="h" x="1314" y="45" font-size="33.5">Somatic II</text>
<text class="h" x="1811" y="45" font-size="33.5">Somatic III</text>
<text class="h" x="270" y="1364" font-size="34">Germline P/LP BA</text>
<text class="h" x="768" y="1361" font-size="34">Germline P/LP MA</text>
<text class="h" x="1306" y="1365" font-size="33.6">Somatic II BA</text>
<text class="h" x="1814" y="1361" font-size="33.6">Somatic II MA</text>
</g>
<g id="legend">
<rect x="835.2" y="1244.9" width="24" height="24.2" fill="#C81E10"/>
<text class="k" x="894.7" y="1268.8" font-size="34">HRD+</text>
<rect x="1102.4" y="1244.9" width="24.3" height="24.2" fill="#3F7CC6"/>
<text class="k" x="1162.6" y="1268.8" font-size="34">HRD-</text>
</g>
<g id="letters">
<text class="p" transform="translate(2.8 39.3) scale(1.09 1)" x="0" y="0" font-size="48" stroke-width="2.3">a</text>
<text class="p" transform="translate(1048.4 38.5) scale(1.1 1)" x="0" y="0" font-size="48" stroke-width="2.3">b</text>
<text class="p" transform="translate(2 1359.3) scale(1.19 1)" x="0" y="0" font-size="48" stroke-width="2.3">c</text>
<text class="p" transform="translate(1041.3 1382.6) scale(1.12 1)" x="0" y="0" font-size="48" stroke-width="2.3">d</text>
</g>
</svg>
</body></html>
